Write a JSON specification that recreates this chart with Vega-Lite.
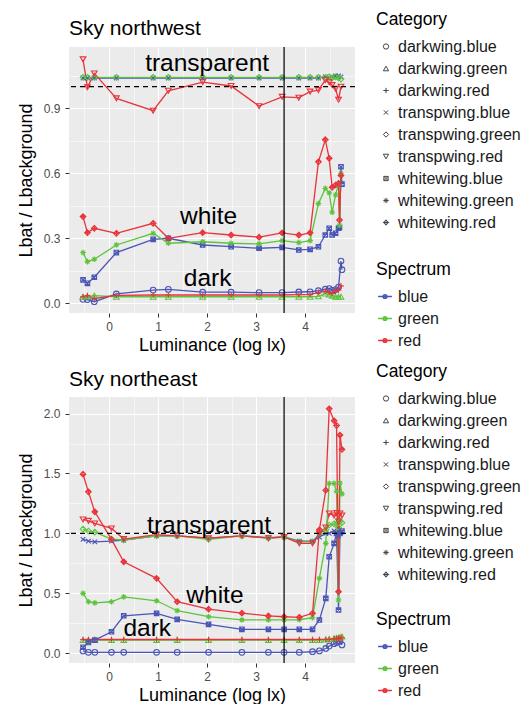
{
  "$schema": "https://vega.github.io/schema/vega-lite/v6.json",
  "background": "white",
  "padding": {"left": 17, "top": 11, "right": 0, "bottom": 0},
  "spacing": 9,
  "config": {
    "font": "Liberation Sans",
    "view": {"fill": "#EBEBEB", "stroke": null},
    "axis": {"domain": false, "labelColor": "#4d4d4d", "labelFontSize": 12, "tickColor": "#333", "tickSize": 4, "tickWidth": 1, "titleFontSize": 18, "titleFontWeight": "normal", "titleColor": "#000", "gridColor": "#ffffff", "labelFont": "Liberation Sans", "titleFont": "Liberation Sans"},
    "legend": {"titleFontSize": 17.5, "titleFontWeight": "normal", "titleColor": "#000", "labelFontSize": 16, "labelColor": "#1a1a1a", "rowPadding": 6, "titlePadding": 10, "labelFont": "Liberation Sans", "titleFont": "Liberation Sans"},
    "title": {"font": "Liberation Sans", "fontSize": 21, "fontWeight": "normal", "color": "#000", "anchor": "start", "frame": "group"}
  },
  "resolve": {"scale": {"color": "independent", "shape": "independent"}},
  "datasets": {
    "labels_nw": [
      {"label": "transparent", "x": 2.0, "y": 1.105},
      {"label": "white", "x": 2.03, "y": 0.40},
      {"label": "dark", "x": 2.01, "y": 0.112}
    ],
    "labels_ne": [
      {"label": "transparent", "x": 2.04, "y": 1.06},
      {"label": "white", "x": 2.16, "y": 0.48},
      {"label": "dark", "x": 0.78, "y": 0.20}
    ],
    "nw": [
      {"c":"darkwing.blue","x":-0.53,"y":0.018},{"c":"darkwing.blue","x":-0.44,"y":0.017},{"c":"darkwing.blue","x":-0.30,"y":0.007},{"c":"darkwing.blue","x":0.15,"y":0.043},{"c":"darkwing.blue","x":0.90,"y":0.061},{"c":"darkwing.blue","x":1.21,"y":0.064},{"c":"darkwing.blue","x":1.91,"y":0.051},{"c":"darkwing.blue","x":2.49,"y":0.051},{"c":"darkwing.blue","x":3.06,"y":0.049},{"c":"darkwing.blue","x":3.53,"y":0.049},{"c":"darkwing.blue","x":3.87,"y":0.052},{"c":"darkwing.blue","x":4.10,"y":0.053},{"c":"darkwing.blue","x":4.27,"y":0.058},{"c":"darkwing.blue","x":4.41,"y":0.065},{"c":"darkwing.blue","x":4.49,"y":0.068},{"c":"darkwing.blue","x":4.55,"y":0.060},{"c":"darkwing.blue","x":4.62,"y":0.063},{"c":"darkwing.blue","x":4.68,"y":0.075},{"c":"darkwing.blue","x":4.73,"y":0.195},{"c":"darkwing.blue","x":4.75,"y":0.155},
      {"c":"darkwing.green","x":-0.53,"y":0.030},{"c":"darkwing.green","x":-0.44,"y":0.032},{"c":"darkwing.green","x":-0.30,"y":0.035},{"c":"darkwing.green","x":0.15,"y":0.030},{"c":"darkwing.green","x":0.90,"y":0.030},{"c":"darkwing.green","x":1.21,"y":0.030},{"c":"darkwing.green","x":1.91,"y":0.030},{"c":"darkwing.green","x":2.49,"y":0.030},{"c":"darkwing.green","x":3.06,"y":0.030},{"c":"darkwing.green","x":3.53,"y":0.030},{"c":"darkwing.green","x":3.87,"y":0.030},{"c":"darkwing.green","x":4.10,"y":0.030},{"c":"darkwing.green","x":4.27,"y":0.032},{"c":"darkwing.green","x":4.41,"y":0.045},{"c":"darkwing.green","x":4.49,"y":0.040},{"c":"darkwing.green","x":4.55,"y":0.035},{"c":"darkwing.green","x":4.62,"y":0.030},{"c":"darkwing.green","x":4.68,"y":0.030},{"c":"darkwing.green","x":4.73,"y":0.030},
      {"c":"darkwing.red","x":-0.53,"y":0.030},{"c":"darkwing.red","x":-0.44,"y":0.036},{"c":"darkwing.red","x":-0.30,"y":0.022},{"c":"darkwing.red","x":0.15,"y":0.036},{"c":"darkwing.red","x":0.90,"y":0.038},{"c":"darkwing.red","x":1.21,"y":0.038},{"c":"darkwing.red","x":1.91,"y":0.038},{"c":"darkwing.red","x":2.49,"y":0.038},{"c":"darkwing.red","x":3.06,"y":0.038},{"c":"darkwing.red","x":3.53,"y":0.038},{"c":"darkwing.red","x":3.87,"y":0.040},{"c":"darkwing.red","x":4.10,"y":0.040},{"c":"darkwing.red","x":4.27,"y":0.050},{"c":"darkwing.red","x":4.41,"y":0.055},{"c":"darkwing.red","x":4.49,"y":0.050},{"c":"darkwing.red","x":4.55,"y":0.045},{"c":"darkwing.red","x":4.62,"y":0.055},{"c":"darkwing.red","x":4.68,"y":0.060},{"c":"darkwing.red","x":4.73,"y":0.080},
      {"c":"transpwing.blue","x":-0.53,"y":1.040},{"c":"transpwing.blue","x":-0.44,"y":1.040},{"c":"transpwing.blue","x":-0.30,"y":1.040},{"c":"transpwing.blue","x":0.15,"y":1.040},{"c":"transpwing.blue","x":0.90,"y":1.040},{"c":"transpwing.blue","x":1.21,"y":1.040},{"c":"transpwing.blue","x":1.91,"y":1.040},{"c":"transpwing.blue","x":2.49,"y":1.040},{"c":"transpwing.blue","x":3.06,"y":1.040},{"c":"transpwing.blue","x":3.53,"y":1.040},{"c":"transpwing.blue","x":3.87,"y":1.040},{"c":"transpwing.blue","x":4.10,"y":1.040},{"c":"transpwing.blue","x":4.27,"y":1.040},{"c":"transpwing.blue","x":4.41,"y":1.045},{"c":"transpwing.blue","x":4.49,"y":1.040},{"c":"transpwing.blue","x":4.55,"y":1.045},{"c":"transpwing.blue","x":4.62,"y":1.050},{"c":"transpwing.blue","x":4.68,"y":1.050},{"c":"transpwing.blue","x":4.73,"y":1.045},
      {"c":"transpwing.green","x":-0.53,"y":1.043},{"c":"transpwing.green","x":-0.44,"y":1.043},{"c":"transpwing.green","x":-0.30,"y":1.043},{"c":"transpwing.green","x":0.15,"y":1.043},{"c":"transpwing.green","x":0.90,"y":1.043},{"c":"transpwing.green","x":1.21,"y":1.043},{"c":"transpwing.green","x":1.91,"y":1.043},{"c":"transpwing.green","x":2.49,"y":1.043},{"c":"transpwing.green","x":3.06,"y":1.043},{"c":"transpwing.green","x":3.53,"y":1.043},{"c":"transpwing.green","x":3.87,"y":1.043},{"c":"transpwing.green","x":4.10,"y":1.043},{"c":"transpwing.green","x":4.27,"y":1.043},{"c":"transpwing.green","x":4.41,"y":1.043},{"c":"transpwing.green","x":4.49,"y":1.045},{"c":"transpwing.green","x":4.55,"y":1.040},{"c":"transpwing.green","x":4.62,"y":1.045},{"c":"transpwing.green","x":4.68,"y":1.040},{"c":"transpwing.green","x":4.73,"y":1.035},
      {"c":"transpwing.red","x":-0.53,"y":1.126},{"c":"transpwing.red","x":-0.44,"y":0.997},{"c":"transpwing.red","x":-0.30,"y":1.061},{"c":"transpwing.red","x":0.15,"y":0.946},{"c":"transpwing.red","x":0.90,"y":0.889},{"c":"transpwing.red","x":1.21,"y":0.981},{"c":"transpwing.red","x":1.91,"y":1.021},{"c":"transpwing.red","x":2.49,"y":1.003},{"c":"transpwing.red","x":3.06,"y":0.910},{"c":"transpwing.red","x":3.53,"y":0.953},{"c":"transpwing.red","x":3.87,"y":0.949},{"c":"transpwing.red","x":4.10,"y":0.977},{"c":"transpwing.red","x":4.27,"y":0.984},{"c":"transpwing.red","x":4.41,"y":1.030},{"c":"transpwing.red","x":4.49,"y":1.020},{"c":"transpwing.red","x":4.55,"y":1.007},{"c":"transpwing.red","x":4.62,"y":0.990},{"c":"transpwing.red","x":4.68,"y":0.940},{"c":"transpwing.red","x":4.73,"y":1.000},
      {"c":"whitewing.blue","x":-0.53,"y":0.108},{"c":"whitewing.blue","x":-0.44,"y":0.092},{"c":"whitewing.blue","x":-0.30,"y":0.120},{"c":"whitewing.blue","x":0.15,"y":0.234},{"c":"whitewing.blue","x":0.90,"y":0.295},{"c":"whitewing.blue","x":1.21,"y":0.300},{"c":"whitewing.blue","x":1.91,"y":0.269},{"c":"whitewing.blue","x":2.49,"y":0.261},{"c":"whitewing.blue","x":3.06,"y":0.254},{"c":"whitewing.blue","x":3.53,"y":0.258},{"c":"whitewing.blue","x":3.87,"y":0.246},{"c":"whitewing.blue","x":4.10,"y":0.249},{"c":"whitewing.blue","x":4.27,"y":0.261},{"c":"whitewing.blue","x":4.41,"y":0.315},{"c":"whitewing.blue","x":4.49,"y":0.346},{"c":"whitewing.blue","x":4.55,"y":0.315},{"c":"whitewing.blue","x":4.62,"y":0.323},{"c":"whitewing.blue","x":4.68,"y":0.346},{"c":"whitewing.blue","x":4.70,"y":0.350},{"c":"whitewing.blue","x":4.73,"y":0.630},{"c":"whitewing.blue","x":4.75,"y":0.550},
      {"c":"whitewing.green","x":-0.53,"y":0.234},{"c":"whitewing.green","x":-0.44,"y":0.192},{"c":"whitewing.green","x":-0.30,"y":0.203},{"c":"whitewing.green","x":0.15,"y":0.269},{"c":"whitewing.green","x":0.90,"y":0.323},{"c":"whitewing.green","x":1.21,"y":0.277},{"c":"whitewing.green","x":1.91,"y":0.284},{"c":"whitewing.green","x":2.49,"y":0.277},{"c":"whitewing.green","x":3.06,"y":0.274},{"c":"whitewing.green","x":3.53,"y":0.289},{"c":"whitewing.green","x":3.87,"y":0.280},{"c":"whitewing.green","x":4.10,"y":0.289},{"c":"whitewing.green","x":4.27,"y":0.460},{"c":"whitewing.green","x":4.41,"y":0.530},{"c":"whitewing.green","x":4.49,"y":0.510},{"c":"whitewing.green","x":4.55,"y":0.420},{"c":"whitewing.green","x":4.62,"y":0.500},{"c":"whitewing.green","x":4.68,"y":0.550},{"c":"whitewing.green","x":4.70,"y":0.360},{"c":"whitewing.green","x":4.73,"y":0.600},
      {"c":"whitewing.red","x":-0.53,"y":0.400},{"c":"whitewing.red","x":-0.44,"y":0.326},{"c":"whitewing.red","x":-0.30,"y":0.346},{"c":"whitewing.red","x":0.15,"y":0.323},{"c":"whitewing.red","x":0.90,"y":0.369},{"c":"whitewing.red","x":1.21,"y":0.300},{"c":"whitewing.red","x":1.91,"y":0.326},{"c":"whitewing.red","x":2.49,"y":0.315},{"c":"whitewing.red","x":3.06,"y":0.305},{"c":"whitewing.red","x":3.53,"y":0.325},{"c":"whitewing.red","x":3.87,"y":0.315},{"c":"whitewing.red","x":4.10,"y":0.325},{"c":"whitewing.red","x":4.27,"y":0.653},{"c":"whitewing.red","x":4.41,"y":0.755},{"c":"whitewing.red","x":4.49,"y":0.669},{"c":"whitewing.red","x":4.55,"y":0.535},{"c":"whitewing.red","x":4.62,"y":0.546},{"c":"whitewing.red","x":4.68,"y":0.554},{"c":"whitewing.red","x":4.70,"y":0.384},{"c":"whitewing.red","x":4.73,"y":0.590}
    ],
    "ne": [
      {"c":"darkwing.blue","x":-0.53,"y":0.020},{"c":"darkwing.blue","x":-0.42,"y":0.008},{"c":"darkwing.blue","x":-0.29,"y":0.008},{"c":"darkwing.blue","x":0.05,"y":0.008},{"c":"darkwing.blue","x":0.30,"y":0.008},{"c":"darkwing.blue","x":0.97,"y":0.008},{"c":"darkwing.blue","x":1.39,"y":0.008},{"c":"darkwing.blue","x":2.03,"y":0.008},{"c":"darkwing.blue","x":2.71,"y":0.008},{"c":"darkwing.blue","x":3.25,"y":0.008},{"c":"darkwing.blue","x":3.57,"y":0.008},{"c":"darkwing.blue","x":3.88,"y":0.008},{"c":"darkwing.blue","x":4.15,"y":0.013},{"c":"darkwing.blue","x":4.29,"y":0.020},{"c":"darkwing.blue","x":4.42,"y":0.040},{"c":"darkwing.blue","x":4.49,"y":0.060},{"c":"darkwing.blue","x":4.59,"y":0.080},{"c":"darkwing.blue","x":4.64,"y":0.090},{"c":"darkwing.blue","x":4.68,"y":0.100},{"c":"darkwing.blue","x":4.71,"y":0.100},{"c":"darkwing.blue","x":4.75,"y":0.070},
      {"c":"darkwing.green","x":-0.53,"y":0.110},{"c":"darkwing.green","x":-0.42,"y":0.110},{"c":"darkwing.green","x":-0.29,"y":0.110},{"c":"darkwing.green","x":0.05,"y":0.110},{"c":"darkwing.green","x":0.30,"y":0.110},{"c":"darkwing.green","x":0.97,"y":0.110},{"c":"darkwing.green","x":1.39,"y":0.110},{"c":"darkwing.green","x":2.03,"y":0.110},{"c":"darkwing.green","x":2.71,"y":0.110},{"c":"darkwing.green","x":3.25,"y":0.110},{"c":"darkwing.green","x":3.57,"y":0.110},{"c":"darkwing.green","x":3.88,"y":0.110},{"c":"darkwing.green","x":4.15,"y":0.110},{"c":"darkwing.green","x":4.29,"y":0.110},{"c":"darkwing.green","x":4.42,"y":0.115},{"c":"darkwing.green","x":4.49,"y":0.120},{"c":"darkwing.green","x":4.59,"y":0.125},{"c":"darkwing.green","x":4.64,"y":0.130},{"c":"darkwing.green","x":4.68,"y":0.130},{"c":"darkwing.green","x":4.71,"y":0.135},{"c":"darkwing.green","x":4.75,"y":0.140},
      {"c":"darkwing.red","x":-0.53,"y":0.115},{"c":"darkwing.red","x":-0.42,"y":0.115},{"c":"darkwing.red","x":-0.29,"y":0.115},{"c":"darkwing.red","x":0.05,"y":0.115},{"c":"darkwing.red","x":0.30,"y":0.115},{"c":"darkwing.red","x":0.97,"y":0.115},{"c":"darkwing.red","x":1.39,"y":0.115},{"c":"darkwing.red","x":2.03,"y":0.115},{"c":"darkwing.red","x":2.71,"y":0.115},{"c":"darkwing.red","x":3.25,"y":0.115},{"c":"darkwing.red","x":3.57,"y":0.115},{"c":"darkwing.red","x":3.88,"y":0.115},{"c":"darkwing.red","x":4.15,"y":0.115},{"c":"darkwing.red","x":4.29,"y":0.115},{"c":"darkwing.red","x":4.42,"y":0.115},{"c":"darkwing.red","x":4.49,"y":0.115},{"c":"darkwing.red","x":4.59,"y":0.120},{"c":"darkwing.red","x":4.64,"y":0.120},{"c":"darkwing.red","x":4.68,"y":0.125},{"c":"darkwing.red","x":4.71,"y":0.125},{"c":"darkwing.red","x":4.75,"y":0.130},
      {"c":"transpwing.blue","x":-0.53,"y":0.950},{"c":"transpwing.blue","x":-0.42,"y":0.936},{"c":"transpwing.blue","x":-0.29,"y":0.930},{"c":"transpwing.blue","x":0.05,"y":0.936},{"c":"transpwing.blue","x":0.30,"y":0.945},{"c":"transpwing.blue","x":0.97,"y":0.980},{"c":"transpwing.blue","x":1.39,"y":0.980},{"c":"transpwing.blue","x":2.03,"y":0.960},{"c":"transpwing.blue","x":2.71,"y":0.980},{"c":"transpwing.blue","x":3.25,"y":0.965},{"c":"transpwing.blue","x":3.57,"y":0.970},{"c":"transpwing.blue","x":3.88,"y":0.935},{"c":"transpwing.blue","x":4.15,"y":0.935},{"c":"transpwing.blue","x":4.29,"y":0.970},{"c":"transpwing.blue","x":4.42,"y":1.000},{"c":"transpwing.blue","x":4.49,"y":1.000},{"c":"transpwing.blue","x":4.59,"y":1.020},{"c":"transpwing.blue","x":4.64,"y":1.000},{"c":"transpwing.blue","x":4.68,"y":0.980},{"c":"transpwing.blue","x":4.71,"y":1.000},{"c":"transpwing.blue","x":4.75,"y":1.010},
      {"c":"transpwing.green","x":-0.53,"y":1.036},{"c":"transpwing.green","x":-0.42,"y":1.020},{"c":"transpwing.green","x":-0.29,"y":1.010},{"c":"transpwing.green","x":0.05,"y":0.953},{"c":"transpwing.green","x":0.30,"y":0.945},{"c":"transpwing.green","x":0.97,"y":0.980},{"c":"transpwing.green","x":1.39,"y":0.980},{"c":"transpwing.green","x":2.03,"y":0.950},{"c":"transpwing.green","x":2.71,"y":0.980},{"c":"transpwing.green","x":3.25,"y":0.960},{"c":"transpwing.green","x":3.57,"y":0.970},{"c":"transpwing.green","x":3.88,"y":0.930},{"c":"transpwing.green","x":4.15,"y":0.930},{"c":"transpwing.green","x":4.29,"y":1.000},{"c":"transpwing.green","x":4.42,"y":1.030},{"c":"transpwing.green","x":4.49,"y":1.070},{"c":"transpwing.green","x":4.59,"y":1.080},{"c":"transpwing.green","x":4.64,"y":1.080},{"c":"transpwing.green","x":4.68,"y":1.050},{"c":"transpwing.green","x":4.71,"y":1.100},{"c":"transpwing.green","x":4.75,"y":1.090},
      {"c":"transpwing.red","x":-0.53,"y":1.117},{"c":"transpwing.red","x":-0.42,"y":1.105},{"c":"transpwing.red","x":-0.29,"y":1.083},{"c":"transpwing.red","x":0.05,"y":1.042},{"c":"transpwing.red","x":0.30,"y":0.953},{"c":"transpwing.red","x":0.97,"y":0.990},{"c":"transpwing.red","x":1.39,"y":0.980},{"c":"transpwing.red","x":2.03,"y":0.960},{"c":"transpwing.red","x":2.71,"y":0.980},{"c":"transpwing.red","x":3.25,"y":0.960},{"c":"transpwing.red","x":3.57,"y":0.970},{"c":"transpwing.red","x":3.88,"y":0.917},{"c":"transpwing.red","x":4.15,"y":0.917},{"c":"transpwing.red","x":4.29,"y":1.000},{"c":"transpwing.red","x":4.42,"y":1.050},{"c":"transpwing.red","x":4.49,"y":1.167},{"c":"transpwing.red","x":4.59,"y":1.150},{"c":"transpwing.red","x":4.64,"y":1.170},{"c":"transpwing.red","x":4.68,"y":1.100},{"c":"transpwing.red","x":4.71,"y":1.167},{"c":"transpwing.red","x":4.75,"y":1.150},
      {"c":"whitewing.blue","x":-0.53,"y":0.050},{"c":"whitewing.blue","x":-0.42,"y":0.090},{"c":"whitewing.blue","x":-0.29,"y":0.110},{"c":"whitewing.blue","x":0.05,"y":0.180},{"c":"whitewing.blue","x":0.30,"y":0.313},{"c":"whitewing.blue","x":0.97,"y":0.333},{"c":"whitewing.blue","x":1.39,"y":0.283},{"c":"whitewing.blue","x":2.03,"y":0.241},{"c":"whitewing.blue","x":2.71,"y":0.200},{"c":"whitewing.blue","x":3.25,"y":0.200},{"c":"whitewing.blue","x":3.57,"y":0.200},{"c":"whitewing.blue","x":3.88,"y":0.200},{"c":"whitewing.blue","x":4.15,"y":0.200},{"c":"whitewing.blue","x":4.29,"y":0.278},{"c":"whitewing.blue","x":4.42,"y":0.458},{"c":"whitewing.blue","x":4.49,"y":0.805},{"c":"whitewing.blue","x":4.59,"y":0.917},{"c":"whitewing.blue","x":4.64,"y":1.000},{"c":"whitewing.blue","x":4.68,"y":0.361},{"c":"whitewing.blue","x":4.71,"y":1.000},{"c":"whitewing.blue","x":4.75,"y":1.020},
      {"c":"whitewing.green","x":-0.53,"y":0.500},{"c":"whitewing.green","x":-0.42,"y":0.430},{"c":"whitewing.green","x":-0.29,"y":0.420},{"c":"whitewing.green","x":0.05,"y":0.430},{"c":"whitewing.green","x":0.30,"y":0.470},{"c":"whitewing.green","x":0.97,"y":0.438},{"c":"whitewing.green","x":1.39,"y":0.355},{"c":"whitewing.green","x":2.03,"y":0.305},{"c":"whitewing.green","x":2.71,"y":0.278},{"c":"whitewing.green","x":3.25,"y":0.278},{"c":"whitewing.green","x":3.57,"y":0.278},{"c":"whitewing.green","x":3.88,"y":0.280},{"c":"whitewing.green","x":4.15,"y":0.297},{"c":"whitewing.green","x":4.29,"y":0.625},{"c":"whitewing.green","x":4.42,"y":0.917},{"c":"whitewing.green","x":4.49,"y":1.417},{"c":"whitewing.green","x":4.59,"y":1.417},{"c":"whitewing.green","x":4.64,"y":1.350},{"c":"whitewing.green","x":4.68,"y":0.444},{"c":"whitewing.green","x":4.71,"y":1.420},{"c":"whitewing.green","x":4.75,"y":1.330},
      {"c":"whitewing.red","x":-0.53,"y":1.494},{"c":"whitewing.red","x":-0.42,"y":1.347},{"c":"whitewing.red","x":-0.29,"y":1.180},{"c":"whitewing.red","x":0.05,"y":0.950},{"c":"whitewing.red","x":0.30,"y":0.763},{"c":"whitewing.red","x":0.97,"y":0.625},{"c":"whitewing.red","x":1.39,"y":0.430},{"c":"whitewing.red","x":2.03,"y":0.368},{"c":"whitewing.red","x":2.71,"y":0.335},{"c":"whitewing.red","x":3.25,"y":0.312},{"c":"whitewing.red","x":3.57,"y":0.305},{"c":"whitewing.red","x":3.88,"y":0.300},{"c":"whitewing.red","x":4.15,"y":0.333},{"c":"whitewing.red","x":4.29,"y":1.030},{"c":"whitewing.red","x":4.42,"y":1.360},{"c":"whitewing.red","x":4.49,"y":2.040},{"c":"whitewing.red","x":4.59,"y":1.940},{"c":"whitewing.red","x":4.64,"y":1.900},{"c":"whitewing.red","x":4.68,"y":0.514},{"c":"whitewing.red","x":4.71,"y":1.820},{"c":"whitewing.red","x":4.75,"y":1.700}
    ]
  },
  "vconcat": [
    {
      "title": {"text": "Sky northwest", "offset": -28},
      "width": 286,
      "height": 266,
      "data": {"name": "nw"},
      "transform": [{"calculate": "split(datum.c, '.')[1]", "as": "Spectrum"}],
      "resolve": {"axis": {"x": "independent", "y": "independent"}},
      "layer": [
        {
          "mark": {"type": "line", "strokeWidth": 1.3},
          "encoding": {
            "x": {"field": "x", "type": "quantitative", "scale": {"domain": [-0.816, 5.016], "nice": false, "zero": false},
              "axis": {"title": "Luminance (log lx)", "values": [0,1,2,3,4], "format": "d", "labelPadding": 4, "titlePadding": 4, "grid": true, "gridWidth": 1.1}},
            "y": {"field": "y", "type": "quantitative", "scale": {"domain": [-0.045, 1.183], "nice": false, "zero": false},
              "axis": {"title": "Lbat / Lbackground", "values": [0,0.3,0.6,0.9], "format": ".1f", "labelPadding": 5, "titlePadding": 8, "grid": true, "gridWidth": 1.1}},
            "color": {"field": "Spectrum", "type": "nominal", "scale": {"domain": ["blue","green","red"], "range": ["#4a55b5","#5cc43c","#e8333a"]},
              "legend": {"title": "Spectrum", "orient": "none", "legendX": 307, "legendY": 214, "symbolType": "M-1.5,0H1.5M-0.4,0A0.4,0.4 0 1,0 0.4,0A0.4,0.4 0 1,0 -0.4,0", "symbolSize": 85, "symbolStrokeWidth": 1.5, "symbolOffset": 1, "labelOffset": 5}},
            "detail": {"field": "c"}
          }
        },
        {
          "mark": {"type": "point", "filled": false, "size": 32, "strokeWidth": 1.1, "opacity": 1},
          "encoding": {
            "x": {"field": "x", "type": "quantitative",
              "axis": {"orient": "top", "values": [-0.5,0.5,1.5,2.5,3.5,4.5], "grid": true, "gridWidth": 0.55, "labels": false, "ticks": false, "domain": false, "title": null}},
            "y": {"field": "y", "type": "quantitative",
              "axis": {"orient": "right", "values": [0.15,0.45,0.75,1.05], "grid": true, "gridWidth": 0.55, "labels": false, "ticks": false, "domain": false, "title": null}},
            "color": {"field": "Spectrum", "type": "nominal",
              "legend": {"title": "Spectrum", "orient": "none", "legendX": 307, "legendY": 214, "symbolType": "M-1.5,0H1.5M-0.4,0A0.4,0.4 0 1,0 0.4,0A0.4,0.4 0 1,0 -0.4,0", "symbolSize": 85, "symbolStrokeWidth": 1.5, "symbolOffset": 1, "labelOffset": 5}},
            "shape": {"field": "c", "type": "nominal",
              "scale": {"domain": ["darkwing.blue","darkwing.green","darkwing.red","transpwing.blue","transpwing.green","transpwing.red","whitewing.blue","whitewing.green","whitewing.red"],
                "range": ["circle","triangle-up","M-1,0H1M0,-1V1","M-0.8,-0.8L0.8,0.8M-0.8,0.8L0.8,-0.8","diamond","triangle-down","M-0.8,-0.8H0.8V0.8H-0.8ZM-0.8,-0.8L0.8,0.8M-0.8,0.8L0.8,-0.8","M-1,0H1M0,-1V1M-0.7,-0.7L0.7,0.7M-0.7,0.7L0.7,-0.7","M0,-1L1,0L0,1L-1,0ZM-1,0H1M0,-1V1"]},
              "legend": {"title": "Category", "orient": "none", "legendX": 307, "legendY": -36, "symbolStrokeColor": "#444", "symbolFillColor": "transparent", "symbolSize": 28, "symbolStrokeWidth": 1, "symbolOffset": 2, "labelOffset": 4}}
          }
        },
        {
          "data": {"values": [{}]},
          "mark": {"type": "rule", "color": "#000", "strokeWidth": 1.2, "strokeDash": [5, 4]},
          "encoding": {"y": {"datum": 1.0, "axis": null}}
        },
        {
          "data": {"values": [{}]},
          "mark": {"type": "rule", "color": "#000", "strokeWidth": 1.2},
          "encoding": {"x": {"datum": 3.57, "axis": null}}
        },
        {
          "data": {"name": "labels_nw"},
          "mark": {"type": "text", "fontSize": 24.5, "font": "Liberation Sans", "color": "#000", "align": "center", "baseline": "middle"},
          "encoding": {"x": {"field": "x", "type": "quantitative", "axis": null}, "y": {"field": "y", "type": "quantitative", "axis": null}, "text": {"field": "label"}}
        }
      ]
    },
    {
      "title": {"text": "Sky northeast", "offset": -27},
      "width": 286,
      "height": 266,
      "data": {"name": "ne"},
      "transform": [{"calculate": "split(datum.c, '.')[1]", "as": "Spectrum"}],
      "resolve": {"axis": {"x": "independent", "y": "independent"}},
      "layer": [
        {
          "mark": {"type": "line", "strokeWidth": 1.3},
          "encoding": {
            "x": {"field": "x", "type": "quantitative", "scale": {"domain": [-0.816, 5.016], "nice": false, "zero": false},
              "axis": {"title": "Luminance (log lx)", "values": [0,1,2,3,4], "format": "d", "labelPadding": 4, "titlePadding": 4, "grid": true, "gridWidth": 1.1}},
            "y": {"field": "y", "type": "quantitative", "scale": {"domain": [-0.081, 2.138], "nice": false, "zero": false},
              "axis": {"title": "Lbat / Lbackground", "values": [0,0.5,1,1.5,2], "format": ".1f", "labelPadding": 5, "titlePadding": 8, "grid": true, "gridWidth": 1.1}},
            "color": {"field": "Spectrum", "type": "nominal", "scale": {"domain": ["blue","green","red"], "range": ["#4a55b5","#5cc43c","#e8333a"]},
              "legend": {"title": "Spectrum", "orient": "none", "legendX": 307, "legendY": 214, "symbolType": "M-1.5,0H1.5M-0.4,0A0.4,0.4 0 1,0 0.4,0A0.4,0.4 0 1,0 -0.4,0", "symbolSize": 85, "symbolStrokeWidth": 1.5, "symbolOffset": 1, "labelOffset": 5}},
            "detail": {"field": "c"}
          }
        },
        {
          "mark": {"type": "point", "filled": false, "size": 32, "strokeWidth": 1.1, "opacity": 1},
          "encoding": {
            "x": {"field": "x", "type": "quantitative",
              "axis": {"orient": "top", "values": [-0.5,0.5,1.5,2.5,3.5,4.5], "grid": true, "gridWidth": 0.55, "labels": false, "ticks": false, "domain": false, "title": null}},
            "y": {"field": "y", "type": "quantitative",
              "axis": {"orient": "right", "values": [0.25,0.75,1.25,1.75], "grid": true, "gridWidth": 0.55, "labels": false, "ticks": false, "domain": false, "title": null}},
            "color": {"field": "Spectrum", "type": "nominal",
              "legend": {"title": "Spectrum", "orient": "none", "legendX": 307, "legendY": 214, "symbolType": "M-1.5,0H1.5M-0.4,0A0.4,0.4 0 1,0 0.4,0A0.4,0.4 0 1,0 -0.4,0", "symbolSize": 85, "symbolStrokeWidth": 1.5, "symbolOffset": 1, "labelOffset": 5}},
            "shape": {"field": "c", "type": "nominal",
              "scale": {"domain": ["darkwing.blue","darkwing.green","darkwing.red","transpwing.blue","transpwing.green","transpwing.red","whitewing.blue","whitewing.green","whitewing.red"],
                "range": ["circle","triangle-up","M-1,0H1M0,-1V1","M-0.8,-0.8L0.8,0.8M-0.8,0.8L0.8,-0.8","diamond","triangle-down","M-0.8,-0.8H0.8V0.8H-0.8ZM-0.8,-0.8L0.8,0.8M-0.8,0.8L0.8,-0.8","M-1,0H1M0,-1V1M-0.7,-0.7L0.7,0.7M-0.7,0.7L0.7,-0.7","M0,-1L1,0L0,1L-1,0ZM-1,0H1M0,-1V1"]},
              "legend": {"title": "Category", "orient": "none", "legendX": 307, "legendY": -34, "symbolStrokeColor": "#444", "symbolFillColor": "transparent", "symbolSize": 28, "symbolStrokeWidth": 1, "symbolOffset": 2, "labelOffset": 4}}
          }
        },
        {
          "data": {"values": [{}]},
          "mark": {"type": "rule", "color": "#000", "strokeWidth": 1.2, "strokeDash": [5, 4]},
          "encoding": {"y": {"datum": 1.0, "axis": null}}
        },
        {
          "data": {"values": [{}]},
          "mark": {"type": "rule", "color": "#000", "strokeWidth": 1.2},
          "encoding": {"x": {"datum": 3.57, "axis": null}}
        },
        {
          "data": {"name": "labels_ne"},
          "mark": {"type": "text", "fontSize": 24.5, "font": "Liberation Sans", "color": "#000", "align": "center", "baseline": "middle"},
          "encoding": {"x": {"field": "x", "type": "quantitative", "axis": null}, "y": {"field": "y", "type": "quantitative", "axis": null}, "text": {"field": "label"}}
        }
      ]
    }
  ]
}
